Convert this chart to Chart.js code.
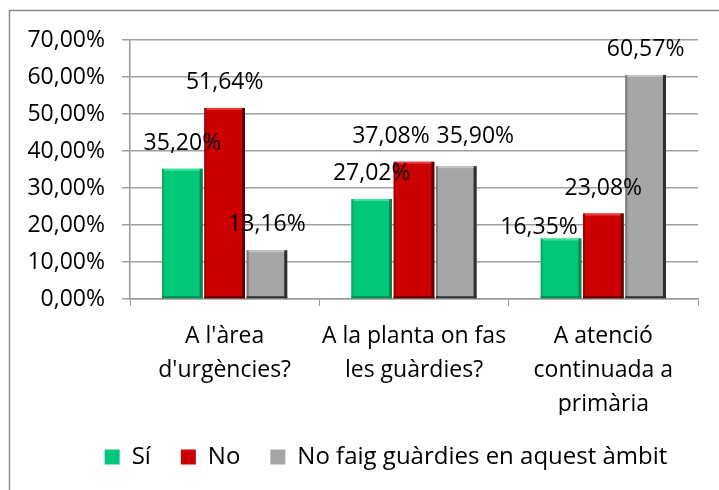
<!DOCTYPE html>
<html lang="ca">
<head>
<meta charset="UTF-8">
<title>Guàrdies</title>
<script src="https://cdn.jsdelivr.net/npm/chart.js"></script>
<style>
  html, body { margin: 0; padding: 0; background: #fff; }
  #wrap { width: 719px; height: 490px; }
</style>
</head>
<body>
<div id="wrap"><canvas id="chart" width="719" height="490"></canvas></div>
<script>
// categories and answers
const categories = [
  ["A l'àrea", "d'urgències?"],
  ["A la planta on fas", "les guàrdies?"],
  ["A atenció", "continuada a", "primària"]
];
const seriesNames = ["Sí", "No", "No faig guàrdies en aquest àmbit"];
const siValues = [35.20, 27.02, 16.35];
const noValues = [51.64, 37.08, 23.08];
const noGuardiesValues = [13.16, 35.90, 60.57];
const yTicks = [0, 10, 20, 30, 40, 50, 60, 70];

const fills = ['#00c878', '#cc0000', '#a6a6a6'];
const edges = [
  { light: '#3fe09c', dark: '#07864f', left: '#0fa866' },
  { light: '#e83a3a', dark: '#5e0000', left: '#a00000' },
  { light: '#c4c4c4', dark: '#2e2e2e', left: '#7a7a7a' }
];
// a few value labels are nudged so they don't collide: [dataset][category]
const labelNudge = {
  '1-1': { dx: -23, dy: 0 },
  '2-1': { dx: 19, dy: -4 },
  '0-2': { dx: -22, dy: 14 }
};
const FONT = "'Open Sans', sans-serif";
const FS = 23;

function pct(v) {
  return v.toFixed(2).replace('.', ',') + '%';
}

// y labels are drawn mirrored (no clipping) and right-aligned at x=105
const measureCtx = document.createElement('canvas').getContext('2d');
measureCtx.font = FS + 'px ' + FONT;
const widestTick = Math.max(...yTicks.map(v => measureCtx.measureText(pct(v)).width));

// frame around the chart (left and top edges only are visible)
const framePlugin = {
  id: 'frame',
  beforeDraw(chart) {
    const ctx = chart.ctx;
    ctx.save();
    ctx.strokeStyle = '#8a8a8a';
    ctx.lineWidth = 1.5;
    ctx.beginPath();
    ctx.moveTo(9.5, 490);
    ctx.lineTo(9.5, 10.5);
    ctx.lineTo(719, 10.5);
    ctx.stroke();
    ctx.restore();
  }
};

// bevelled bar edges plus value labels above each bar
const barDecor = {
  id: 'barDecor',
  afterDatasetsDraw(chart) {
    const ctx = chart.ctx;
    ctx.save();
    chart.data.datasets.forEach((ds, di) => {
      const meta = chart.getDatasetMeta(di);
      const e = edges[di];
      meta.data.forEach(bar => {
        const l = bar.x - bar.width / 2;
        const r = bar.x + bar.width / 2;
        const t = bar.y;
        const b = bar.base;
        ctx.fillStyle = e.left;
        ctx.fillRect(l, t, 2, b - t);
        ctx.fillStyle = e.dark;
        ctx.fillRect(r - 3, t, 3, b - t);
        ctx.fillRect(l, b - 2, r - l, 2);
        ctx.fillStyle = e.light;
        ctx.fillRect(l + 2, t, r - l - 5, 2);
      });
    });
    ctx.fillStyle = '#000';
    ctx.font = FS + 'px ' + FONT;
    ctx.textAlign = 'center';
    ctx.textBaseline = 'alphabetic';
    chart.data.datasets.forEach((ds, di) => {
      const meta = chart.getDatasetMeta(di);
      meta.data.forEach((bar, i) => {
        const n = labelNudge[di + '-' + i] || { dx: 0, dy: 0 };
        ctx.fillText(pct(ds.data[i]), bar.x + n.dx, bar.y - 19 + n.dy);
      });
    });
    ctx.restore();
  }
};

new Chart(document.getElementById('chart'), {
  type: 'bar',
  data: {
    labels: categories,
    datasets: [
      { label: seriesNames[0], data: siValues, backgroundColor: fills[0] },
      { label: seriesNames[1], data: noValues, backgroundColor: fills[1] },
      { label: seriesNames[2], data: noGuardiesValues, backgroundColor: fills[2] }
    ]
  },
  options: {
    responsive: false,
    animation: false,
    events: [],
    categoryPercentage: 0.67,
    barPercentage: 0.96,
    layout: { padding: { left: 74, right: 21, top: 40, bottom: 11 } },
    plugins: {
      tooltip: { enabled: false },
      legend: {
        position: 'bottom',
        labels: {
          color: '#000',
          font: { family: FONT, size: 24 },
          boxWidth: 15,
          boxHeight: 15,
          padding: 30
        }
      }
    },
    scales: {
      x: {
        afterFit(scale) { scale.height = 116; },
        grid: {
          offset: true,
          drawOnChartArea: false,
          tickLength: 7,
          color: '#999'
        },
        border: { color: '#999', width: 1.5 },
        ticks: {
          color: '#000',
          padding: 14,
          maxRotation: 0,
          font: { family: FONT, size: FS, lineHeight: 1.47 }
        }
      },
      y: {
        min: 0,
        max: 70,
        afterFit(scale) { scale.width = 56; },
        afterBuildTicks(scale) {
          scale.ticks = yTicks.map(v => ({ value: v }));
        },
        grid: { color: '#a0a0a0', lineWidth: 1.5, tickLength: 8 },
        border: { color: '#999', width: 1.5 },
        ticks: {
          color: '#000',
          mirror: true,
          crossAlign: 'far',
          padding: -25 - widestTick,
          font: { family: FONT, size: FS },
          callback: v => pct(v)
        }
      }
    }
  },
  plugins: [framePlugin, barDecor]
});
</script>
</body>
</html>
